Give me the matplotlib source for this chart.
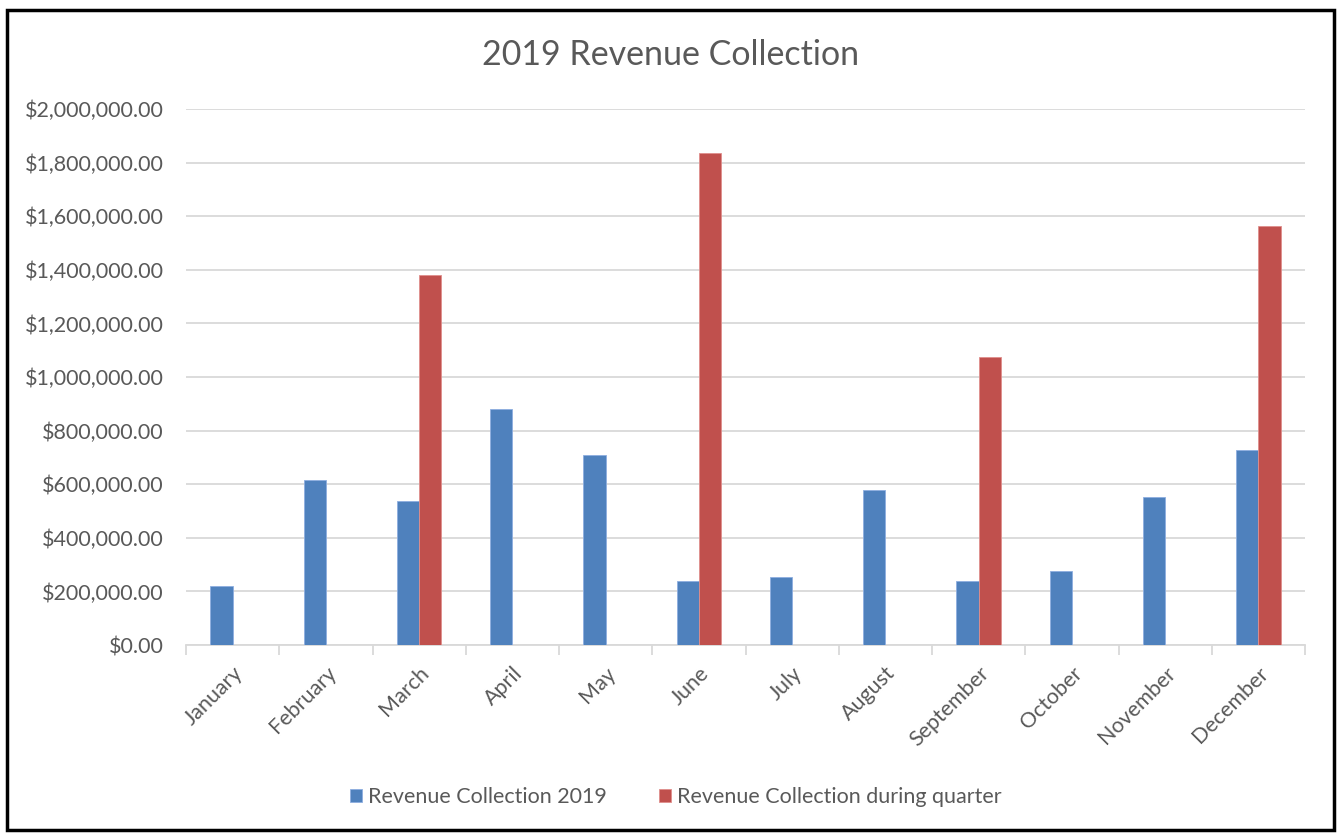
import numpy as np
import matplotlib.pyplot as plt
from matplotlib.patches import Rectangle
from matplotlib.ticker import FuncFormatter, MultipleLocator

# ---------------------------------------------------------
# DATA
# ---------------------------------------------------------
months = ["January", "February", "March", "April", "May", "June",
          "July", "August", "September", "October", "November", "December"]
revenue_2019 = [221000, 617000, 537000, 882000, 710000, 237000,
                255000, 577000, 237000, 277000, 553000, 726000]
revenue_quarter = [np.nan, np.nan, 1382000, np.nan, np.nan, 1836000,
                   np.nan, np.nan, 1074000, np.nan, np.nan, 1563000]
series_names = ["Revenue Collection 2019", "Revenue Collection during quarter"]
title = "2019 Revenue Collection"

# ---------------------------------------------------------
# STYLE
# ---------------------------------------------------------
plt.rcParams["font.family"] = ["Lato", "DejaVu Sans"]
TEXT = "#595959"
GRID = "#d9d9d9"
BLUE = "#4f81bd"
RED = "#c0504d"
FS = 15.5

fig = plt.figure(figsize=(13.41, 8.33), dpi=100)
ax = fig.add_axes([186 / 1341, 188 / 833, 1119 / 1341, 536 / 833])

x = np.arange(len(months))
w = 1 / (2 + 2.19)  # excel gap width 219%

ax.bar(x - w / 2, revenue_2019, width=w, color=BLUE, edgecolor="#8eaee0",
       linewidth=0.6, label=series_names[0], zorder=3)
ax.bar(x + w / 2, revenue_quarter, width=w, color=RED, edgecolor="#e08f8c",
       linewidth=0.6, label=series_names[1], zorder=3)

ax.set_xlim(-0.5, len(months) - 0.5)
ax.set_ylim(0, 2000000)
ax.yaxis.set_major_locator(MultipleLocator(200000))
ax.yaxis.set_major_formatter(FuncFormatter(lambda v, _: f"${v:,.2f}"))
ax.grid(axis="y", color=GRID, linewidth=1.3, zorder=0)
ax.set_axisbelow(True)

for s in ["top", "right", "left"]:
    ax.spines[s].set_visible(False)
ax.spines["bottom"].set_color(GRID)
ax.spines["bottom"].set_linewidth(1.3)

ax.set_xticks(x)
ax.set_xticklabels(months, rotation=45, ha="right", rotation_mode="anchor")
ax.set_xticks(np.arange(-0.5, len(months)), minor=True)
ax.tick_params(axis="x", which="major", length=0, pad=13, labelsize=FS, labelcolor=TEXT)
ax.tick_params(axis="x", which="minor", length=7, width=1.3, color=GRID)
ax.tick_params(axis="y", length=0, pad=16, labelsize=FS, labelcolor=TEXT)

fig.text(0.5, 1 - 55 / 833, title, ha="center", va="center", fontsize=24.5, color=TEXT)

leg = fig.legend(loc="center", bbox_to_anchor=(676 / 1341, 1 - 797 / 833), ncol=2,
                 frameon=False, fontsize=FS, handlelength=0.55, handleheight=0.55,
                 handletextpad=0.3, columnspacing=2.4, labelcolor=TEXT)

# outer chart border
fig.patches.append(Rectangle((7 / 1341, 3 / 833), 1327 / 1341, 820 / 833,
                             transform=fig.transFigure, fill=False,
                             edgecolor="black", linewidth=2.5))

fig.savefig("out.png", dpi=100)
